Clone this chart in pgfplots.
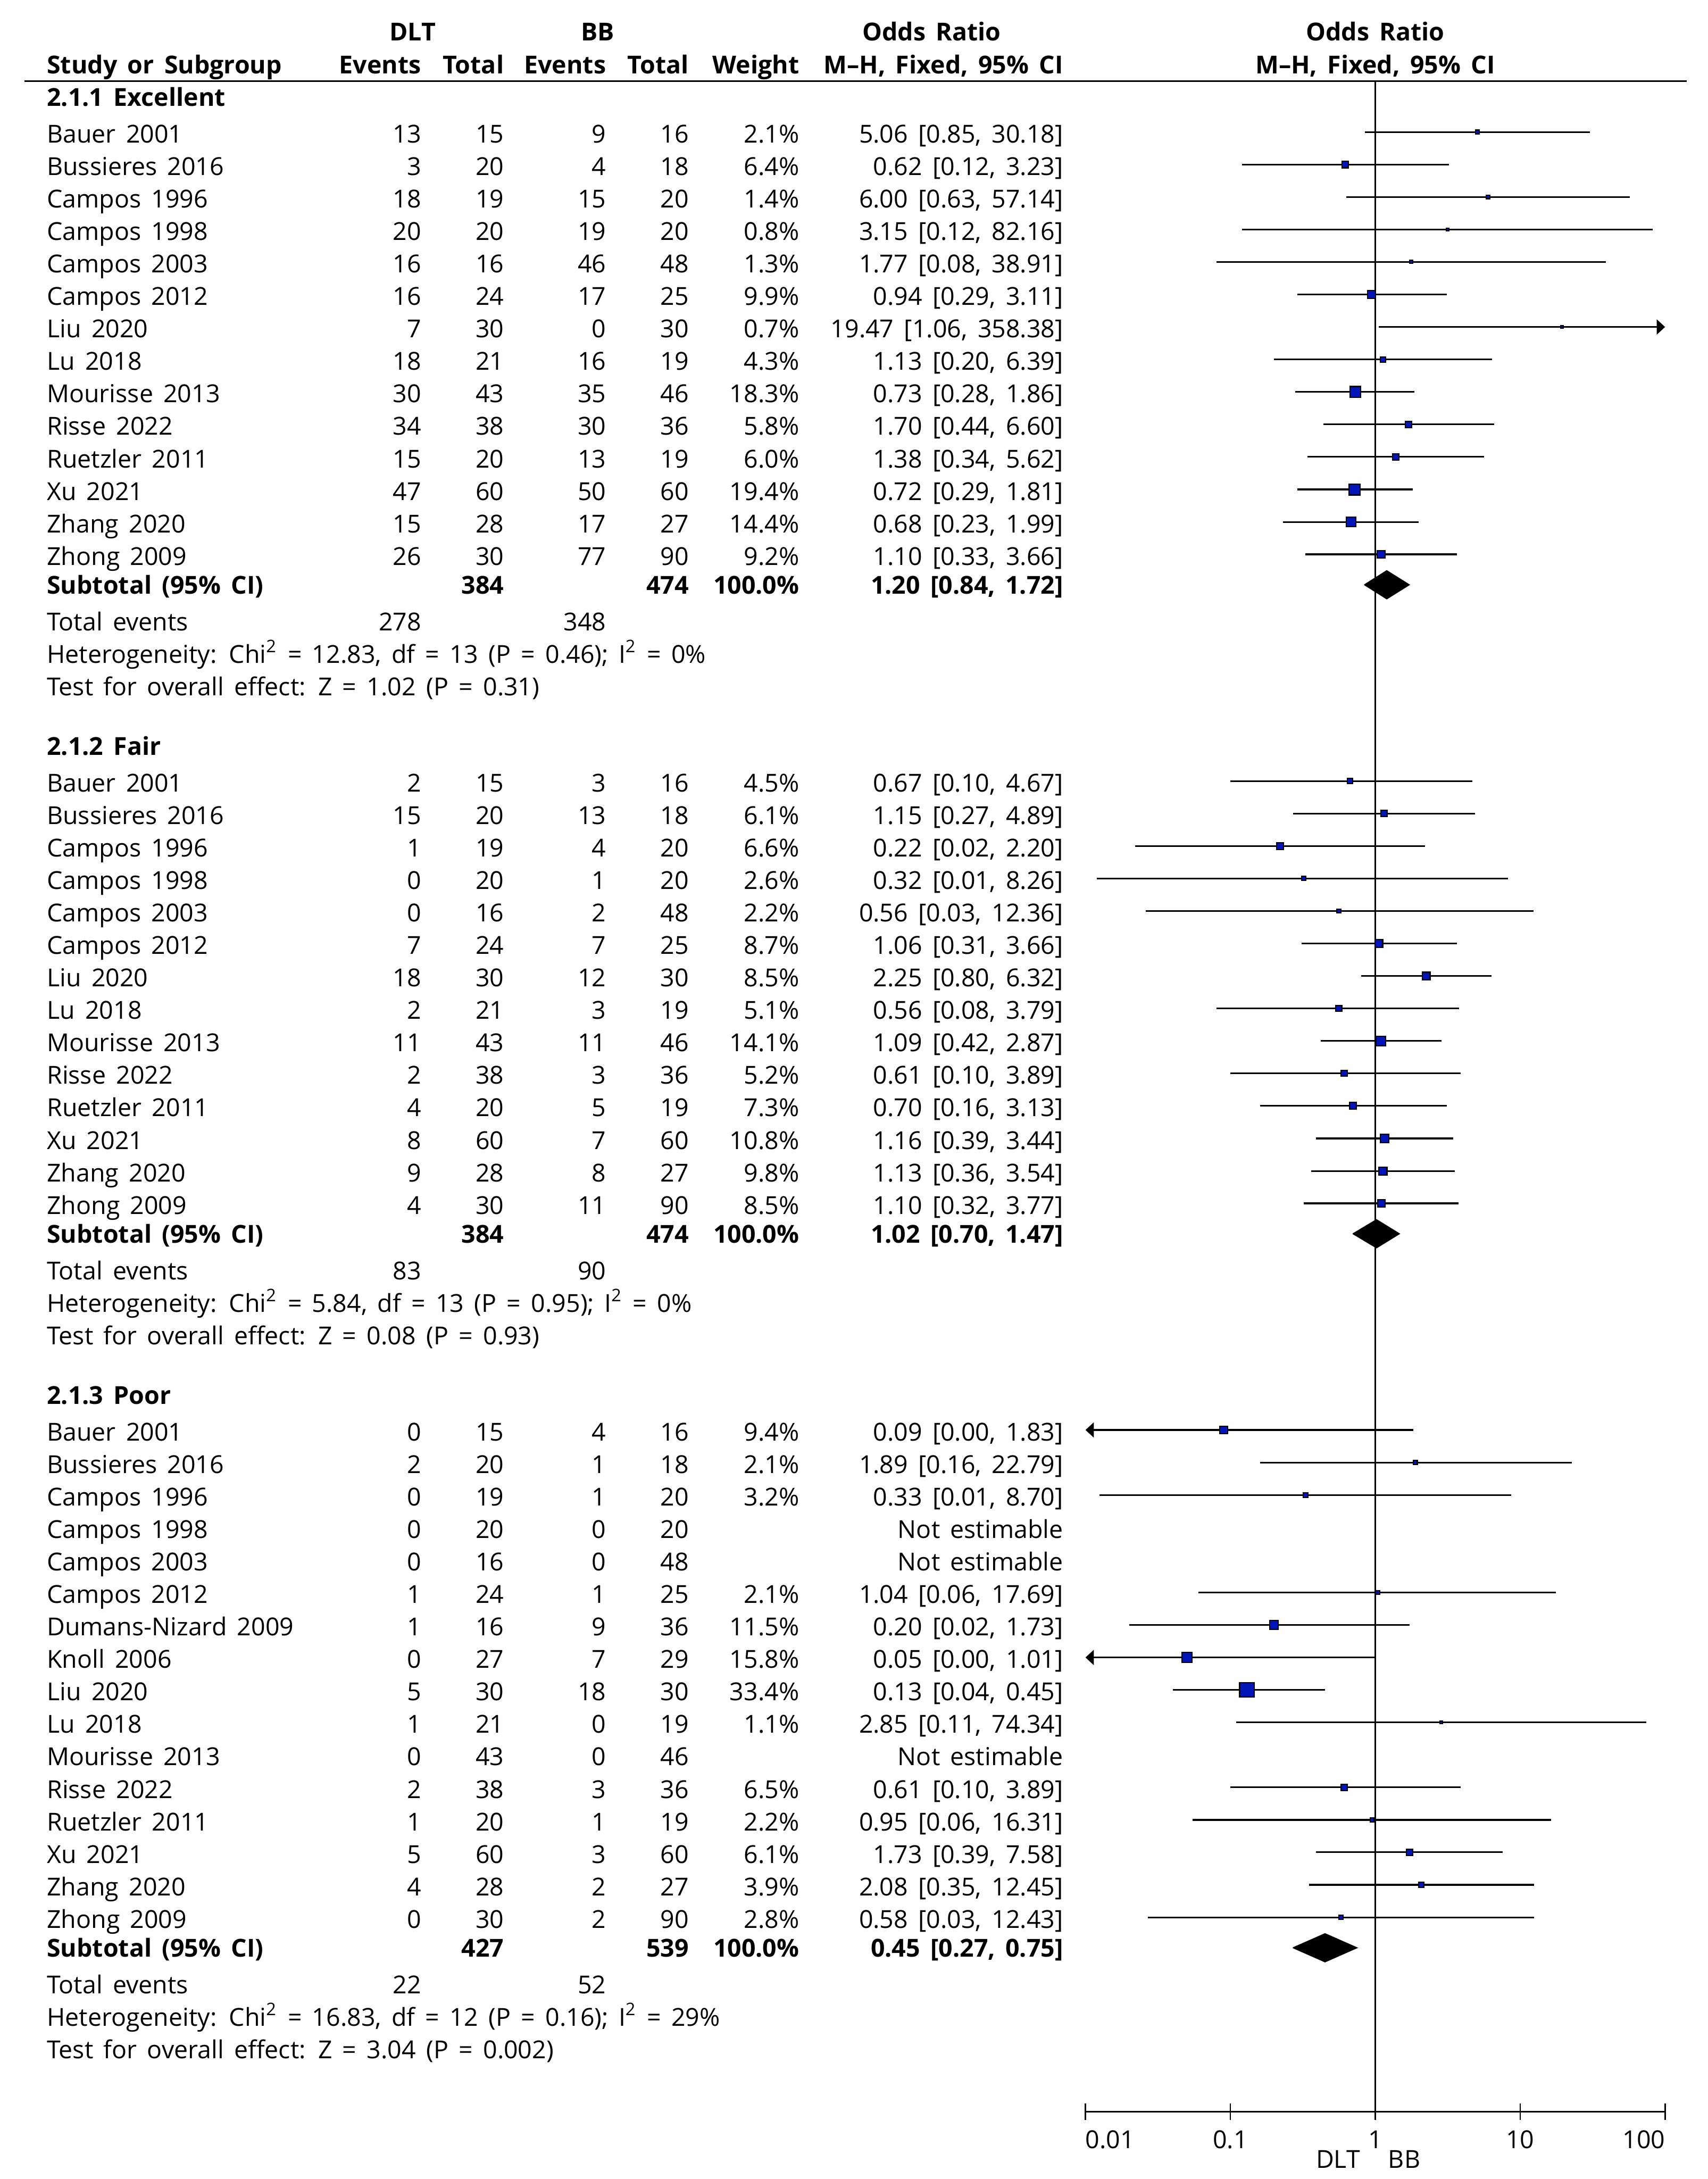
\documentclass[border=0pt]{standalone}
\usepackage{fontspec}
\setmainfont{Open Sans}[WordSpace=1.6]
\usepackage{pgfplots}
\pgfplotsset{compat=1.18}
\usetikzlibrary{arrows.meta}
\definecolor{sqblue}{RGB}{0,20,184}
\newcommand\fs{\fontsize{8.9}{10.7}\selectfont}

\pgfplotsset{
  ci/.style={black, line width=0.6pt, mark=none, forget plot},
  sq/.style={only marks, mark=square*, mark options={draw=none, fill=sqblue}, forget plot},
}
% square only: y, OR, weight
\newcommand\sq[3]{%
  \pgfmathsetmacro\ms{0.4375*sqrt(#3)+0.075}%
  \edef\doit{\noexpand\addplot[sq, mark size=\ms pt] coordinates {(#2,-#1)};}\doit}
% study: y, OR, lower, upper, weight
\newcommand\st[5]{%
  \addplot[ci] coordinates {(#3,-#1) (#4,-#1)};
  \sq{#1}{#2}{#5}}
% text row: y, name, events, total, events, total, weight, CI
\newcommand\srow[8]{%
  \node[l] at (33.4,#1) {#2};
  \node[r] at (303.5,#1) {#3};
  \node[r] at (363,#1) {#4};
  \node[r] at (436.5,#1) {#5};
  \node[r] at (496,#1) {#6};
  \node[r] at (575.5,#1) {#7};
  \node[r] at (765.5,#1) {#8};}
\newcommand\subrow[4]{%
  \node[l,font=\fs\bfseries] at (33.4,#1) {Subtotal (95\% CI)};
  \node[r,font=\fs\bfseries] at (363,#1) {#2};
  \node[r,font=\fs\bfseries] at (496,#1) {#3};
  \node[r,font=\fs\bfseries] at (575.5,#1) {100.0\%};
  \node[r,font=\fs\bfseries] at (765.5,#1) {#4};}
\newcommand\totrow[3]{%
  \node[l] at (33.4,#1) {Total events};
  \node[r] at (303.5,#1) {#2};
  \node[r] at (436.5,#1) {#3};}

\begin{document}
\begin{tikzpicture}
\path[use as bounding box] (0pt,0pt) rectangle (614.5pt,-784pt);

\begin{axis}[
  at={(390.6pt,-759.75pt)}, anchor=south west,
  width=208.55pt, height=730.55pt, scale only axis,
  xmode=log, xmin=0.01, xmax=100, ymin=-1519.5, ymax=-58.4,
  enlargelimits=false, clip=false,
  axis x line*=bottom, hide y axis,
  axis line style={line width=0.6pt},
  xtick={0.01,0.1,1,10,100},
  xticklabels={{\makebox[0pt][l]{0.01}},0.1,1,10,{\makebox[0pt][r]{100}}},
  xminorticks=false,
  major tick length=5.85pt, tick align=center,
  xtick style={line width=0.5pt, black},
  xticklabel style={font=\fs, anchor=base, inner sep=0pt, yshift=-10.35pt},
]
% line of no effect
\addplot[ci] coordinates {(1,-58.4) (1,-1519.5)};

% 2.1.1 Excellent
\st{95.0}{5.06}{0.85}{30.18}{2.1}
\st{118.4}{0.62}{0.12}{3.23}{6.4}
\st{141.8}{6.00}{0.63}{57.14}{1.4}
\st{165.1}{3.15}{0.12}{82.16}{0.8}
\st{188.5}{1.77}{0.08}{38.91}{1.3}
\st{211.9}{0.94}{0.29}{3.11}{9.9}
\addplot[ci, -{Triangle[length=3pt,width=5.4pt]}] coordinates {(1.06,-235.3) (100,-235.3)};
\sq{235.3}{19.47}{0.7}
\st{258.7}{1.13}{0.20}{6.39}{4.3}
\st{282.0}{0.73}{0.28}{1.86}{18.3}
\st{305.4}{1.70}{0.44}{6.60}{5.8}
\st{328.8}{1.38}{0.34}{5.62}{6.0}
\st{352.2}{0.72}{0.29}{1.81}{19.4}
\st{375.6}{0.68}{0.23}{1.99}{14.4}
\st{398.9}{1.10}{0.33}{3.66}{9.2}
\addplot[fill=black, draw=black, line width=0.3pt, forget plot] coordinates
  {(0.84,-420.8) (1.20,-410.6) (1.72,-420.8) (1.20,-431.0) (0.84,-420.8)};

% 2.1.2 Fair
\st{562.0}{0.67}{0.10}{4.67}{4.5}
\st{585.4}{1.15}{0.27}{4.89}{6.1}
\st{608.8}{0.22}{0.022}{2.20}{6.6}
\st{632.1}{0.32}{0.012}{8.26}{2.6}
\st{655.5}{0.56}{0.026}{12.36}{2.2}
\st{678.9}{1.06}{0.31}{3.66}{8.7}
\st{702.3}{2.25}{0.80}{6.32}{8.5}
\st{725.7}{0.56}{0.08}{3.79}{5.1}
\st{749.0}{1.09}{0.42}{2.87}{14.1}
\st{772.4}{0.61}{0.10}{3.89}{5.2}
\st{795.8}{0.70}{0.16}{3.13}{7.3}
\st{819.2}{1.16}{0.39}{3.44}{10.8}
\st{842.6}{1.13}{0.36}{3.54}{9.8}
\st{865.9}{1.10}{0.32}{3.77}{8.5}
\addplot[fill=black, draw=black, line width=0.3pt, forget plot] coordinates
  {(0.70,-887.8) (1.02,-877.6) (1.47,-887.8) (1.02,-898.0) (0.70,-887.8)};

% 2.1.3 Poor
\addplot[ci, {Triangle[length=3pt,width=5.4pt]}-] coordinates {(0.01,-1029.0) (1.83,-1029.0)};
\sq{1029.0}{0.09}{9.4}
\st{1052.4}{1.89}{0.16}{22.79}{2.1}
\st{1075.8}{0.33}{0.0125}{8.70}{3.2}
\st{1145.9}{1.04}{0.06}{17.69}{2.1}
\st{1169.3}{0.20}{0.02}{1.73}{11.5}
\addplot[ci, {Triangle[length=3pt,width=5.4pt]}-] coordinates {(0.01,-1192.7) (1.01,-1192.7)};
\sq{1192.7}{0.05}{15.8}
\st{1216.0}{0.13}{0.04}{0.45}{33.4}
\st{1239.4}{2.85}{0.11}{74.34}{1.1}
\st{1286.2}{0.61}{0.10}{3.89}{6.5}
\st{1309.6}{0.95}{0.055}{16.31}{2.2}
\st{1332.9}{1.73}{0.39}{7.58}{6.1}
\st{1356.3}{2.08}{0.35}{12.45}{3.9}
\st{1379.7}{0.58}{0.027}{12.43}{2.8}
\addplot[fill=black, draw=black, line width=0.3pt, forget plot] coordinates
  {(0.27,-1401.6) (0.45,-1391.4) (0.75,-1401.6) (0.45,-1411.8) (0.27,-1401.6)};
\end{axis}

\begin{scope}[x=0.5pt, y=-0.5pt,
  every node/.style={font=\fs, inner sep=0pt},
  l/.style={anchor=base west, yshift=-3.85pt},
  r/.style={anchor=base east, yshift=-3.85pt}]
% header
\node[anchor=base, font=\fs\bfseries] at (297,29.2) {DLT};
\node[anchor=base, font=\fs\bfseries] at (430,29.2) {BB};
\node[anchor=base, font=\fs\bfseries] at (670.4,29.2) {Odds Ratio};
\node[anchor=base, font=\fs\bfseries] at (989.7,29.2) {Odds Ratio};
\node[anchor=base west, font=\fs\bfseries] at (33.4,53) {Study or Subgroup};
\node[anchor=base east, font=\fs\bfseries] at (303.5,53) {Events};
\node[anchor=base east, font=\fs\bfseries] at (363,53) {Total};
\node[anchor=base east, font=\fs\bfseries] at (436.5,53) {Events};
\node[anchor=base east, font=\fs\bfseries] at (496,53) {Total};
\node[anchor=base east, font=\fs\bfseries] at (575.5,53) {Weight};
\node[anchor=base east, font=\fs\bfseries] at (765.5,53) {M–H, Fixed, 95\% CI};
\node[anchor=base, font=\fs\bfseries] at (989.7,53) {M–H, Fixed, 95\% CI};
\draw[line width=0.65pt] (17.5,58.4) -- (1214,58.4);

% 2.1.1 Excellent
\node[l, font=\fs\bfseries] at (33.4,68.6) {2.1.1 Excellent};
\srow{95.0}{Bauer 2001}{13}{15}{9}{16}{2.1\%}{5.06 [0.85, 30.18]}
\srow{118.4}{Bussieres 2016}{3}{20}{4}{18}{6.4\%}{0.62 [0.12, 3.23]}
\srow{141.8}{Campos 1996}{18}{19}{15}{20}{1.4\%}{6.00 [0.63, 57.14]}
\srow{165.1}{Campos 1998}{20}{20}{19}{20}{0.8\%}{3.15 [0.12, 82.16]}
\srow{188.5}{Campos 2003}{16}{16}{46}{48}{1.3\%}{1.77 [0.08, 38.91]}
\srow{211.9}{Campos 2012}{16}{24}{17}{25}{9.9\%}{0.94 [0.29, 3.11]}
\srow{235.3}{Liu 2020}{7}{30}{0}{30}{0.7\%}{19.47 [1.06, 358.38]}
\srow{258.7}{Lu 2018}{18}{21}{16}{19}{4.3\%}{1.13 [0.20, 6.39]}
\srow{282.0}{Mourisse 2013}{30}{43}{35}{46}{18.3\%}{0.73 [0.28, 1.86]}
\srow{305.4}{Risse 2022}{34}{38}{30}{36}{5.8\%}{1.70 [0.44, 6.60]}
\srow{328.8}{Ruetzler 2011}{15}{20}{13}{19}{6.0\%}{1.38 [0.34, 5.62]}
\srow{352.2}{Xu 2021}{47}{60}{50}{60}{19.4\%}{0.72 [0.29, 1.81]}
\srow{375.6}{Zhang 2020}{15}{28}{17}{27}{14.4\%}{0.68 [0.23, 1.99]}
\srow{398.9}{Zhong 2009}{26}{30}{77}{90}{9.2\%}{1.10 [0.33, 3.66]}
\subrow{419.6}{384}{474}{1.20 [0.84, 1.72]}
\totrow{446.1}{278}{348}
\node[l] at (33.4,469.5) {Heterogeneity: Chi\textsuperscript{2} = 12.83, df = 13 (P = 0.46); I\textsuperscript{2} = 0\%};
\node[l] at (33.4,492.9) {Test for overall effect: Z = 1.02 (P = 0.31)};

% 2.1.2 Fair
\node[l, font=\fs\bfseries] at (33.4,535.6) {2.1.2 Fair};
\srow{562.0}{Bauer 2001}{2}{15}{3}{16}{4.5\%}{0.67 [0.10, 4.67]}
\srow{585.4}{Bussieres 2016}{15}{20}{13}{18}{6.1\%}{1.15 [0.27, 4.89]}
\srow{608.8}{Campos 1996}{1}{19}{4}{20}{6.6\%}{0.22 [0.02, 2.20]}
\srow{632.1}{Campos 1998}{0}{20}{1}{20}{2.6\%}{0.32 [0.01, 8.26]}
\srow{655.5}{Campos 2003}{0}{16}{2}{48}{2.2\%}{0.56 [0.03, 12.36]}
\srow{678.9}{Campos 2012}{7}{24}{7}{25}{8.7\%}{1.06 [0.31, 3.66]}
\srow{702.3}{Liu 2020}{18}{30}{12}{30}{8.5\%}{2.25 [0.80, 6.32]}
\srow{725.7}{Lu 2018}{2}{21}{3}{19}{5.1\%}{0.56 [0.08, 3.79]}
\srow{749.0}{Mourisse 2013}{11}{43}{11}{46}{14.1\%}{1.09 [0.42, 2.87]}
\srow{772.4}{Risse 2022}{2}{38}{3}{36}{5.2\%}{0.61 [0.10, 3.89]}
\srow{795.8}{Ruetzler 2011}{4}{20}{5}{19}{7.3\%}{0.70 [0.16, 3.13]}
\srow{819.2}{Xu 2021}{8}{60}{7}{60}{10.8\%}{1.16 [0.39, 3.44]}
\srow{842.6}{Zhang 2020}{9}{28}{8}{27}{9.8\%}{1.13 [0.36, 3.54]}
\srow{865.9}{Zhong 2009}{4}{30}{11}{90}{8.5\%}{1.10 [0.32, 3.77]}
\subrow{886.6}{384}{474}{1.02 [0.70, 1.47]}
\totrow{913.1}{83}{90}
\node[l] at (33.4,936.5) {Heterogeneity: Chi\textsuperscript{2} = 5.84, df = 13 (P = 0.95); I\textsuperscript{2} = 0\%};
\node[l] at (33.4,959.9) {Test for overall effect: Z = 0.08 (P = 0.93)};

% 2.1.3 Poor
\node[l, font=\fs\bfseries] at (33.4,1002.6) {2.1.3 Poor};
\srow{1029.0}{Bauer 2001}{0}{15}{4}{16}{9.4\%}{0.09 [0.00, 1.83]}
\srow{1052.4}{Bussieres 2016}{2}{20}{1}{18}{2.1\%}{1.89 [0.16, 22.79]}
\srow{1075.8}{Campos 1996}{0}{19}{1}{20}{3.2\%}{0.33 [0.01, 8.70]}
\srow{1099.1}{Campos 1998}{0}{20}{0}{20}{}{Not estimable}
\srow{1122.5}{Campos 2003}{0}{16}{0}{48}{}{Not estimable}
\srow{1145.9}{Campos 2012}{1}{24}{1}{25}{2.1\%}{1.04 [0.06, 17.69]}
\srow{1169.3}{Dumans-Nizard 2009}{1}{16}{9}{36}{11.5\%}{0.20 [0.02, 1.73]}
\srow{1192.7}{Knoll 2006}{0}{27}{7}{29}{15.8\%}{0.05 [0.00, 1.01]}
\srow{1216.0}{Liu 2020}{5}{30}{18}{30}{33.4\%}{0.13 [0.04, 0.45]}
\srow{1239.4}{Lu 2018}{1}{21}{0}{19}{1.1\%}{2.85 [0.11, 74.34]}
\srow{1262.8}{Mourisse 2013}{0}{43}{0}{46}{}{Not estimable}
\srow{1286.2}{Risse 2022}{2}{38}{3}{36}{6.5\%}{0.61 [0.10, 3.89]}
\srow{1309.6}{Ruetzler 2011}{1}{20}{1}{19}{2.2\%}{0.95 [0.06, 16.31]}
\srow{1332.9}{Xu 2021}{5}{60}{3}{60}{6.1\%}{1.73 [0.39, 7.58]}
\srow{1356.3}{Zhang 2020}{4}{28}{2}{27}{3.9\%}{2.08 [0.35, 12.45]}
\srow{1379.7}{Zhong 2009}{0}{30}{2}{90}{2.8\%}{0.58 [0.03, 12.43]}
\subrow{1400.4}{427}{539}{0.45 [0.27, 0.75]}
\totrow{1426.9}{22}{52}
\node[l] at (33.4,1450.3) {Heterogeneity: Chi\textsuperscript{2} = 16.83, df = 12 (P = 0.16); I\textsuperscript{2} = 29\%};
\node[l] at (33.4,1473.7) {Test for overall effect: Z = 3.04 (P = 0.002)};

% axis caption
\node[anchor=base east] at (979.2,1560.2) {DLT};
\node[anchor=base west] at (998.7,1560.2) {BB};
\end{scope}
\end{tikzpicture}
\end{document}
